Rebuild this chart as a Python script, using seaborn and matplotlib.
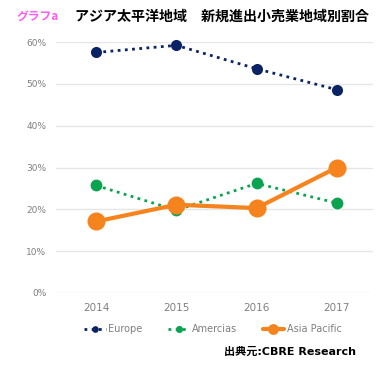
import matplotlib
matplotlib.use("Agg")
import matplotlib.pyplot as plt
import seaborn as sns
import pandas as pd

years = [2014, 2015, 2016, 2017]
europe = [0.575, 0.592, 0.536, 0.486]
americas = [0.257, 0.198, 0.262, 0.215]
asia_pacific = [0.171, 0.211, 0.203, 0.300]
yticks = [0, 0.1, 0.2, 0.3, 0.4, 0.5, 0.6]
ytick_labels = ["0%", "10%", "20%", "30%", "40%", "50%", "60%"]
title_tag = "グラフa"
title_text = "アジア太平洋地域　新規進出小売業地域別割合"
source_text = "出典元:CBRE Research"

sns.set_theme(style="white")
plt.rcParams['font.family'] = ['DejaVu Sans', 'Noto Sans CJK JP']

fig = plt.figure(figsize=(3.77, 3.70), dpi=100)
ax = fig.add_axes([56/377, (370-293)/370, (373-56)/377, (293-42)/370])

df_e = pd.DataFrame({"year": years, "value": europe})
df_a = pd.DataFrame({"year": years, "value": americas})
df_p = pd.DataFrame({"year": years, "value": asia_pacific})

navy = "#0b2265"
green = "#0aa350"
orange = "#f5841f"

sns.lineplot(data=df_e, x="year", y="value", ax=ax, color=navy, linestyle=(0, (1, 1.6)),
             linewidth=2.0, marker="o", markersize=8, markeredgewidth=0, label="Europe", clip_on=False)
sns.lineplot(data=df_a, x="year", y="value", ax=ax, color=green, linestyle=(0, (1, 1.6)),
             linewidth=2.0, marker="o", markersize=8.5, markeredgewidth=0, label="Amercias", clip_on=False)
sns.lineplot(data=df_p, x="year", y="value", ax=ax, color=orange, linestyle="-",
             linewidth=3.0, marker="o", markersize=13, markeredgewidth=0, label="Asia Pacific", clip_on=False)

ax.set_xlim(2013.5, 2017.45)
ax.set_ylim(0, 0.6)
ax.set_yticks(yticks)
ax.set_yticklabels(ytick_labels, fontsize=6.5, color="#7f7f7f")
ax.set_xticks(years)
ax.set_xticklabels([str(y) for y in years], fontsize=7.5, color="#7f7f7f")
ax.tick_params(axis="y", length=0, pad=7)
ax.tick_params(axis="x", length=0, pad=7)
ax.set_xlabel("")
ax.set_ylabel("")
ax.grid(axis="y", color="#e6e6e6", linewidth=1)
ax.set_axisbelow(True)
for s in ax.spines.values():
    s.set_visible(False)

handles, labels = ax.get_legend_handles_labels()
leg = ax.legend(handles, labels, loc="center", bbox_to_anchor=(213/377, (370-329)/370), bbox_transform=fig.transFigure,
                ncol=3, frameon=False, fontsize=7, handlelength=2.2, columnspacing=2.6, handletextpad=0.3,
                markerscale=0.6)
for t in leg.get_texts():
    t.set_color("#7f7f7f")

fig.text(17/377, (370-17)/370, title_tag, color="#ff5cf5", fontsize=8.5, fontweight="bold",
         family=['Noto Sans CJK JP', 'DejaVu Sans'], va="center", ha="left")
fig.text(75/377, (370-17)/370, title_text, color="black", fontsize=10.1, fontweight="bold",
         family=['Noto Sans CJK JP', 'DejaVu Sans'], va="center", ha="left")
fig.text(356/377, (370-352)/370, source_text, color="black", fontsize=8, fontweight="bold",
         family=['DejaVu Sans', 'Noto Sans CJK JP'], va="center", ha="right")

fig.savefig("out.png", dpi=100, facecolor="white")
